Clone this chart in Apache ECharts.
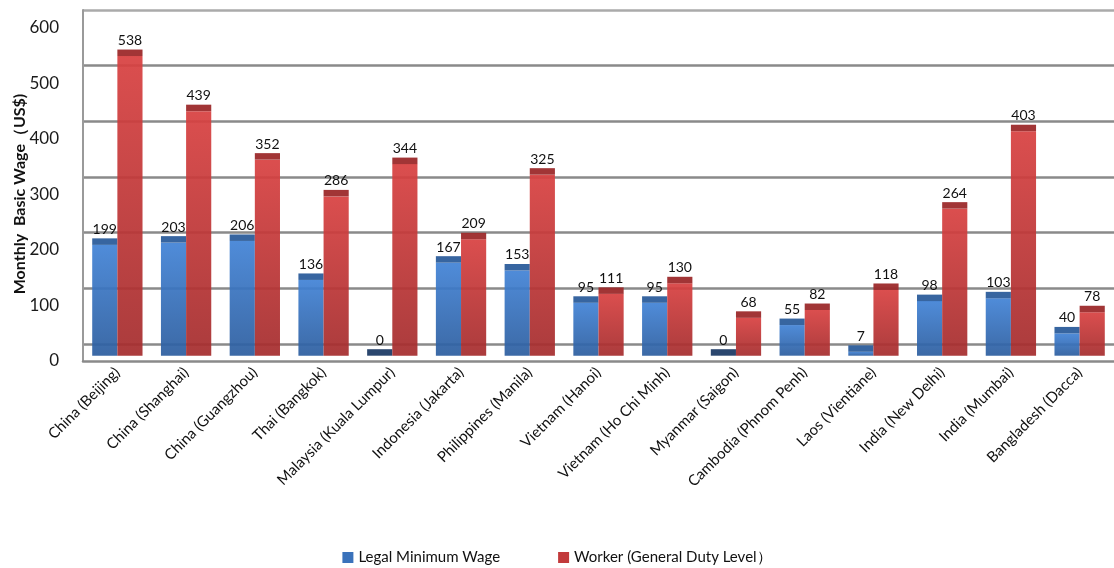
<!DOCTYPE html>
<html>
<head>
<meta charset="utf-8">
<title>Monthly Basic Wage</title>
<script src="https://cdn.jsdelivr.net/npm/echarts@6/dist/echarts.min.js"></script>
<style>
  html, body { margin: 0; padding: 0; background: #fff; }
  #chart { width: 1114px; height: 568px; }
</style>
</head>
<body>
<div id="chart"></div>
<script>
// Cities surveyed
var categories = [
  'China (Beijing)', 'China (Shanghai)', 'China (Guangzhou)', 'Thai (Bangkok)',
  'Malaysia (Kuala Lumpur)', 'Indonesia (Jakarta)', 'Philippines (Manila)',
  'Vietnam (Hanoi)', 'Vietnam (Ho Chi Minh)', 'Myanmar (Saigon)',
  'Cambodia (Phnom Penh)', 'Laos (Vientiane)', 'India (New Delhi)',
  'India (Mumbai)', 'Bangladesh (Dacca)'
];
// Monthly basic wage, US$
var legalMinimumWage = [199, 203, 206, 136, 0, 167, 153, 95, 95, 0, 55, 7, 98, 103, 40];
var workerGeneralDuty = [538, 439, 352, 286, 344, 209, 325, 111, 130, 68, 82, 118, 264, 403, 78];
var yTicks = [0, 100, 200, 300, 400, 500, 600];

var seriesNames = ['Legal Minimum Wage', 'Worker (General Duty Level\uFF09'];

var FONT = 'Lato, "Noto Sans", sans-serif';

var palettes = [
  { top: '#4283d6', bottom: '#2d5e9f', cap: '#2c5d9b', capFlat: '#1f3c66', legend: '#3a72bb' },
  { top: '#d84141', bottom: '#a52d2e', cap: '#9c2a2b', capFlat: '#9c2a2b', legend: '#c23a3b' }
];

var BAR_RATIO = 0.366;   // bar width as a share of the category band
var CAP = 6.5;           // height of the darker top face, px

function makeRender(sIdx) {
  var pal = palettes[sIdx];
  return function (params, api) {
    var idx = api.value(0);
    var val = api.value(1);
    var top = api.coord([idx, val]);
    var base = api.coord([idx, 0]);
    var band = api.size([1, 0])[0];
    var w = band * BAR_RATIO;
    var x = sIdx === 0 ? top[0] - w : top[0];
    var h = base[1] - top[1];
    var children = [];
    if (h > 0.01) {
      children.push({
        type: 'rect',
        shape: { x: x, y: top[1], width: w, height: h },
        style: {
          fill: new echarts.graphic.LinearGradient(0, 0, 0, 1, [
            { offset: 0, color: pal.top },
            { offset: 1, color: pal.bottom }
          ]),
          opacity: 0.93
        }
      });
    }
    children.push({
      type: 'rect',
      shape: { x: x, y: top[1] - CAP, width: w, height: CAP },
      style: { fill: val === 0 ? pal.capFlat : pal.cap, opacity: 0.95 }
    });
    children.push({
      type: 'text',
      style: {
        x: x + w / 2,
        y: top[1] - CAP - 2,
        text: String(val),
        fill: '#111',
        font: '14px ' + FONT,
        textAlign: 'center',
        textVerticalAlign: 'bottom'
      }
    });
    return { type: 'group', children: children };
  };
}

function toPairs(arr) {
  return arr.map(function (v, i) { return [i, v]; });
}

var chart = echarts.init(document.getElementById('chart'), null, { renderer: 'canvas' });

var option = {
  animation: false,
  backgroundColor: '#fff',
  textStyle: { fontFamily: FONT },
  grid: [
    // front frame: tick labels, wall and floor edge
    { left: 83, right: -6, top: 10, bottom: 207 },
    // back wall: horizontal gridlines
    { left: 83, right: -6, top: 10, bottom: 224 },
    // bars
    { left: 83, right: -6, top: 21.5, bottom: 212.3 }
  ],
  xAxis: [
    {
      gridIndex: 0, type: 'category', data: categories,
      axisLine: { show: true, lineStyle: { color: '#8a8a8a', width: 2.5 } },
      axisTick: { show: false },
      axisLabel: {
        rotate: 45, interval: 0, margin: 9,
        fontSize: 15, color: '#111', fontFamily: FONT
      }
    },
    { gridIndex: 1, type: 'category', data: categories, show: false },
    { gridIndex: 2, type: 'category', data: categories, show: false }
  ],
  yAxis: [
    {
      gridIndex: 0, type: 'value', min: 0, max: 631.9, interval: 100,
      axisLine: { show: true, lineStyle: { color: '#9a9a9a', width: 2 } },
      axisTick: { show: false },
      splitLine: { show: false },
      axisLabel: {
        fontSize: 17, color: '#1a1a1a', margin: 24, fontFamily: FONT,
        formatter: function (v) { return yTicks.indexOf(v) >= 0 ? String(v) : ''; }
      }
    },
    {
      gridIndex: 1, type: 'value', min: 0, max: 600, interval: 100,
      axisLine: { show: false }, axisTick: { show: false }, axisLabel: { show: false },
      splitLine: {
        show: true,
        lineStyle: {
          color: ['#8a8a8a', '#8a8a8a', '#8a8a8a', '#8a8a8a', '#8a8a8a', '#8a8a8a', '#aaaaaa'],
          width: 2.5
        }
      }
    },
    { gridIndex: 2, type: 'value', min: 0, max: 600, show: false, splitLine: { show: false } }
  ],
  legend: {
    top: 545,
    left: 'center',
    icon: 'rect',
    itemWidth: 11,
    itemHeight: 11,
    itemGap: 58,
    textStyle: { fontSize: 15, color: '#111', fontFamily: FONT },
    data: seriesNames
  },
  graphic: [
    {
      type: 'text',
      x: 20, y: 194,
      rotation: Math.PI / 2,
      style: {
        text: 'Monthly  Basic Wage\uFF08US$)',
        font: 'bold 16px ' + FONT,
        fill: '#111',
        textAlign: 'center',
        textVerticalAlign: 'middle'
      }
    }
  ],
  series: [
    {
      name: seriesNames[0], type: 'custom',
      xAxisIndex: 2, yAxisIndex: 2,
      renderItem: makeRender(0),
      encode: { x: 0, y: 1 },
      data: toPairs(legalMinimumWage),
      itemStyle: { color: palettes[0].legend },
      clip: false, z: 3
    },
    {
      name: seriesNames[1], type: 'custom',
      xAxisIndex: 2, yAxisIndex: 2,
      renderItem: makeRender(1),
      encode: { x: 0, y: 1 },
      data: toPairs(workerGeneralDuty),
      itemStyle: { color: palettes[1].legend },
      clip: false, z: 3
    }
  ]
};

chart.setOption(option);
</script>
</body>
</html>
